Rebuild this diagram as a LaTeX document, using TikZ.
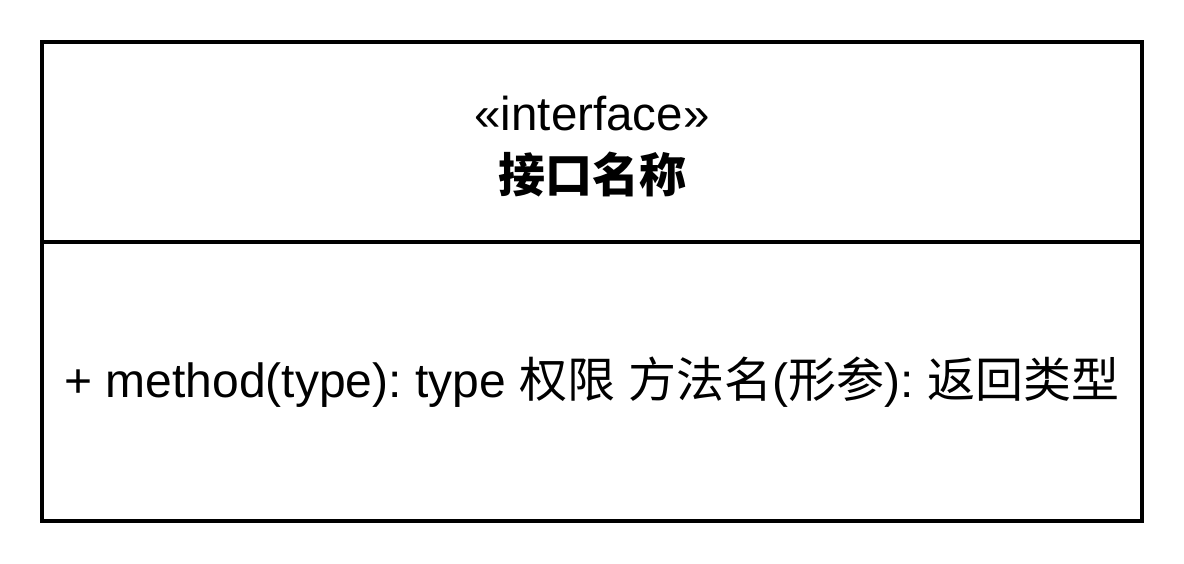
\documentclass[tikz,border=0pt]{standalone}
\usepackage{fontspec}
\setmainfont{Liberation Sans}
\newfontfamily\cjk{Noto Sans CJK SC}
\usetikzlibrary{positioning}
\newcommand{\zh}[1]{{\cjk #1}}
\frenchspacing

\begin{document}
\begin{tikzpicture}[
        x=1bp,y=-1bp,
        every node/.append style={inner sep=0pt}
    ]
    \tikzstyle{part}=[draw,line width=4bp,outer sep=0pt,minimum width=1100bp];
    \tikzstyle{txt}=[font=\fontsize{47.5bp}{56bp}\selectfont];
    \useasboundingbox (0,0) rectangle (1184,564);
    % header
    \node[part,minimum height=200bp] (head) at (592,142) {};
    \node[txt] (stereo) at ([yshift=28bp]head.center) {«interface»};
    \node[txt,font=\fontsize{47bp}{56bp}\selectfont\bfseries] (name) at ([yshift=-33bp]head.center) {\zh{接口名称}};
    % body
    \node[part,minimum height=279bp,below=0bp of head] (body) {};
    \node[txt,font=\fontsize{48bp}{56bp}\selectfont] (method) at ([yshift=-1bp]body.center)
        {+ method(type): type \zh{权限} \zh{方法名}(\zh{形参}): \zh{返回类型}};
\end{tikzpicture}
\end{document}
